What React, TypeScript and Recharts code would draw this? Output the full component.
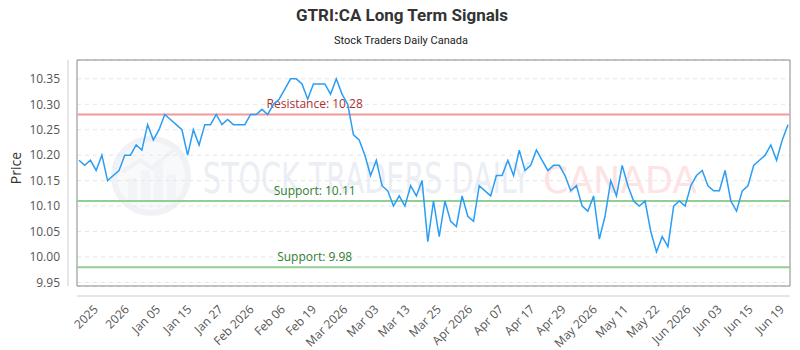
import React from 'react';
import {
  LineChart,
  Line,
  XAxis,
  YAxis,
  CartesianGrid,
  ReferenceLine,
  ReferenceArea,
} from 'recharts';

const TITLE = 'GTRI:CA Long Term Signals';
const SUBTITLE = 'Stock Traders Daily Canada';

const PRICES = [
  10.19, 10.18, 10.19, 10.17, 10.2, 10.15, 10.16, 10.17, 10.2, 10.2,
  10.22, 10.21, 10.26, 10.23, 10.25, 10.28, 10.27, 10.26, 10.25, 10.2,
  10.25, 10.22, 10.26, 10.26, 10.28, 10.26, 10.27, 10.26, 10.26, 10.26,
  10.28, 10.28, 10.29, 10.28, 10.3, 10.31, 10.33, 10.35, 10.35, 10.34,
  10.31, 10.34, 10.34, 10.34, 10.32, 10.35, 10.32, 10.3, 10.24, 10.23,
  10.2, 10.16, 10.19, 10.14, 10.13, 10.1, 10.12, 10.1, 10.14, 10.12,
  10.15, 10.03, 10.11, 10.04, 10.11, 10.07, 10.06, 10.12, 10.08, 10.07,
  10.14, 10.13, 10.12, 10.16, 10.16, 10.19, 10.16, 10.21, 10.17, 10.18,
  10.21, 10.19, 10.17, 10.18, 10.18, 10.16, 10.13, 10.14, 10.1, 10.09,
  10.12, 10.035, 10.08, 10.15, 10.12, 10.18, 10.14, 10.11, 10.1, 10.11,
  10.05, 10.01, 10.04, 10.02, 10.1, 10.11, 10.1, 10.14, 10.16, 10.17,
  10.14, 10.13, 10.13, 10.17, 10.11, 10.09, 10.13, 10.14, 10.18, 10.19,
  10.2, 10.22, 10.19, 10.23, 10.26,
];

const TICK_LABELS = [
  '2025', '2026', 'Jan 05', 'Jan 15', 'Jan 27', 'Feb 2026', 'Feb 06', 'Feb 19',
  'Mar 2026', 'Mar 03', 'Mar 13', 'Mar 25', 'Apr 2026', 'Apr 07', 'Apr 17',
  'Apr 29', 'May 2026', 'May 11', 'May 22', 'Jun 2026', 'Jun 03', 'Jun 15', 'Jun 19',
];

const Y_TICKS = [9.95, 10.0, 10.05, 10.1, 10.15, 10.2, 10.25, 10.3, 10.35];
const Y_DOMAIN = [9.943, 10.387];

const RESISTANCE = 10.28;
const SUPPORTS = [10.11, 9.98];

const FIRST_TICK = 2.4;
const LAST_TICK = 122.4;

const data = PRICES.map((price, i) => ({ i, price }));
const X_DOMAIN = [-0.35, PRICES.length - 1 + 0.35];
const TICK_STEP = (LAST_TICK - FIRST_TICK) / (TICK_LABELS.length - 1);
const X_TICKS = TICK_LABELS.map((_, k) => FIRST_TICK + k * TICK_STEP);

const FONT = "'Open Sans', sans-serif";

const levelLabel = (text: string, color: string) => (props: any) => {
  const vb = props.viewBox || {};
  const x = vb.x + vb.width / 3;
  const y = vb.y - 6;
  return (
    <text x={x} y={y} textAnchor="middle" fill={color} fontSize={12} fontFamily={FONT}>
      {text}
    </text>
  );
};

const priceLabel = (props: any) => {
  const vb = props.viewBox || {};
  const cx = 15;
  const cy = vb.y + vb.height / 2 - 5;
  return (
    <text
      x={cx}
      y={cy}
      transform={`rotate(-90, ${cx}, ${cy})`}
      textAnchor="middle"
      dominantBaseline="central"
      fill="#333"
      fontSize={14}
      fontFamily={FONT}
    >
      Price
    </text>
  );
};

function Watermark() {
  return (
    <svg width={800} height={350} style={{ position: 'absolute', left: 0, top: 0 }}>
      <text x={402} y={21} textAnchor="middle" fontSize={17} fontWeight="bold" fill="#333" fontFamily="Roboto, sans-serif">
        {TITLE}
      </text>
      <text x={401} y={44} textAnchor="middle" fontSize={11} fill="#222" fontFamily="Roboto, sans-serif">
        {SUBTITLE}
      </text>
      <g opacity={0.5}>
        <circle cx={151} cy={176} r={37} fill="#f3f5f9" stroke="#e3e7ef" strokeWidth={6} />
        <rect x={128} y={178} width={9} height={24} fill="#e6eaf1" />
        <rect x={141} y={170} width={9} height={32} fill="#e6eaf1" />
        <rect x={154} y={162} width={9} height={40} fill="#e6eaf1" />
        <rect x={167} y={174} width={9} height={28} fill="#e6eaf1" />
        <polyline points="122,172 140,160 152,168 178,146" fill="none" stroke="#e3e7ef" strokeWidth={4} />
      </g>
      <text
        x={203}
        y={193}
        fontSize={42}
        fill="#ebeef5"
        fontFamily="'DejaVu Sans Condensed', 'Liberation Sans Narrow', sans-serif"
        textLength={327}
        lengthAdjust="spacingAndGlyphs"
      >
        STOCK TRADERS DAILY
      </text>
      <text
        x={543}
        y={193}
        fontSize={38}
        fill="#fde3e3"
        fontFamily="'DejaVu Sans Condensed', 'Liberation Sans Narrow', sans-serif"
        textLength={154}
        lengthAdjust="spacingAndGlyphs"
      >
        CANADA
      </text>
    </svg>
  );
}

export default function App() {
  return (
    <div style={{ position: 'absolute', left: 0, top: 0, width: 800, height: 350 }}>
      <Watermark />
      <div style={{ position: 'absolute', left: 0, top: 0 }}>
        <LineChart width={800} height={350} data={data} margin={{ top: 60, right: 10, bottom: 0, left: 0 }}>
          <XAxis
            xAxisId="d"
            dataKey="i"
            type="number"
            domain={X_DOMAIN}
            height={10}
            tick={false}
            axisLine={false}
            tickLine={false}
          />
          <XAxis
            xAxisId="x"
            dataKey="i"
            type="number"
            domain={X_DOMAIN}
            ticks={X_TICKS}
            interval={0}
            height={54}
            tickFormatter={(v: number) => TICK_LABELS[Math.round((v - FIRST_TICK) / TICK_STEP)]}
            angle={-45}
            textAnchor="end"
            tick={{ fontSize: 12, fill: '#555', fontFamily: FONT }}
            axisLine={{ stroke: '#ccc' }}
            tickLine={false}
          />
          <YAxis
            yAxisId="d"
            type="number"
            domain={Y_DOMAIN}
            width={9}
            tick={false}
            axisLine={false}
            tickLine={false}
          />
          <YAxis
            yAxisId="p"
            type="number"
            domain={Y_DOMAIN}
            ticks={Y_TICKS}
            interval={0}
            width={68}
            tickFormatter={(v: number) => v.toFixed(2)}
            tick={{ fontSize: 12, fill: '#555', fontFamily: FONT }}
            axisLine={{ stroke: '#ccc' }}
            tickLine={false}
            label={priceLabel}
          />
          <CartesianGrid
            xAxisId="x"
            yAxisId="p"
            vertical={false}
            strokeDasharray="4 4"
            stroke="#e6e6e6"
          />
          <ReferenceArea
            xAxisId="x"
            yAxisId="p"
            x1={X_DOMAIN[0]}
            x2={X_DOMAIN[1]}
            y1={Y_DOMAIN[0]}
            y2={Y_DOMAIN[1]}
            fill="none"
            stroke="#888"
            strokeWidth={1}
            ifOverflow="visible"
          />
          <ReferenceLine
            xAxisId="x"
            yAxisId="p"
            y={RESISTANCE}
            stroke="#f09a9a"
            strokeWidth={2}
            label={levelLabel(`Resistance: ${RESISTANCE.toFixed(2)}`, '#a83232')}
          />
          {SUPPORTS.map((s) => (
            <ReferenceLine
              key={s}
              xAxisId="x"
              yAxisId="p"
              y={s}
              stroke="#93cf93"
              strokeWidth={2}
              label={levelLabel(`Support: ${s.toFixed(2)}`, '#2e7d32')}
            />
          ))}
          <Line
            xAxisId="x"
            yAxisId="p"
            type="linear"
            dataKey="price"
            stroke="#2a9df4"
            strokeWidth={1.5}
            dot={false}
            isAnimationActive={false}
          />
        </LineChart>
      </div>
    </div>
  );
}
